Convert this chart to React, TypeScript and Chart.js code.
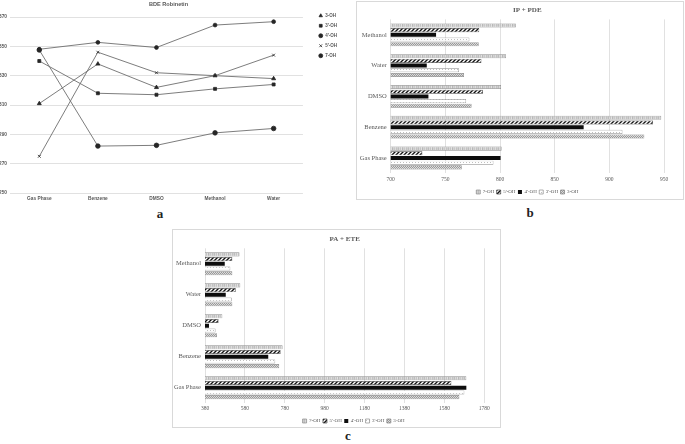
import React, { useEffect, useRef } from 'react';
import { Chart, registerables } from 'chart.js';

Chart.register(...registerables);

// ---------- Panel a: BDE Robinetin ----------
const solvents = ['Gas Phase', 'Benzene', 'DMSO', 'Methanol', 'Water'];
const bde3OH = [311, 338, 322, 330, 328];
const bde3pOH = [340, 318, 317, 321, 324];
const bde4pOH = [347.5, 282, 282.5, 291, 294];
const bde5pOH = [275, 346, 332, 330, 344];
const bde7OH = [348, 352.7, 349.2, 364.5, 366.8];
const bdeMin = 250;
const bdeMax = 370;
const bdeStep = 20;

// ---------- Panels b and c ----------
const barCategories = ['Methanol', 'Water', 'DMSO', 'Benzene', 'Gas Phase'];
const barSeries = ['7-OH', "5'-OH", "4'-OH", "3'-OH", '3-OH'];

const ip7OH = [814.5, 805.5, 801, 947.5, 801.5];
const ip5pOH = [781, 783, 784.5, 940, 729];
const ip4pOH = [741.5, 733, 734.5, 876.5, 800.5];
const ip3pOH = [772, 762.5, 769, 912, 794];
const ip3OH = [780.5, 767, 774, 932, 765];
const ipMin = 700;
const ipMax = 950;
const ipStep = 50;

const pa7OH = [553, 557, 467, 769, 1690];
const pa5pOH = [517, 534, 448, 759, 1615];
const pa4pOH = [479, 484, 400, 697, 1690];
const pa3pOH = [507, 514, 433, 732, 1680];
const pa3OH = [517, 517, 440, 752, 1655];
const paMin = 380;
const paMax = 1780;
const paStep = 200;

const SANS = "'Liberation Sans', Arial, sans-serif";
const SERIF = "'Liberation Serif', 'Times New Roman', serif";
const TXT = '#595959';
const GRID = '#d9d9d9';

const legendMove = {
  id: 'legendMove',
  afterLayout(chart: any, _args: any, opts: any) {
    const lg = chart.legend;
    if (!lg || !opts) return;
    const w = lg.width;
    const h = lg.height;
    if (opts.left != null) {
      lg.left = opts.left;
      lg.right = opts.left + w;
    }
    if (opts.dx) {
      lg.left += opts.dx;
      lg.right += opts.dx;
    }
    if (opts.top != null) {
      lg.top = opts.top;
      lg.bottom = opts.top + h;
    }
  },
};

function makePattern(w: number, h: number, draw: (ctx: CanvasRenderingContext2D) => void) {
  const c = document.createElement('canvas');
  c.width = w;
  c.height = h;
  const ctx = c.getContext('2d')!;
  draw(ctx);
  return ctx.createPattern(c, 'repeat')!;
}

function barStyles() {
  const pat7 = makePattern(10, 2, (ctx) => {
    const g = ['#cfcfcf', '#bdbdbd', '#d9d9d9', '#c4c4c4', '#e2e2e2', '#b8b8b8', '#d2d2d2', '#c8c8c8', '#dcdcdc', '#c2c2c2'];
    g.forEach((col, i) => {
      ctx.fillStyle = col;
      ctx.fillRect(i, 0, 1, 2);
    });
  });
  const pat5 = makePattern(4, 4, (ctx) => {
    ctx.fillStyle = '#ffffff';
    ctx.fillRect(0, 0, 4, 4);
    ctx.strokeStyle = '#111111';
    ctx.lineWidth = 1.4;
    ctx.beginPath();
    ctx.moveTo(-1, 5);
    ctx.lineTo(5, -1);
    ctx.moveTo(-3, 3);
    ctx.lineTo(3, -3);
    ctx.moveTo(1, 7);
    ctx.lineTo(7, 1);
    ctx.stroke();
  });
  const pat3p = makePattern(3, 3, (ctx) => {
    ctx.fillStyle = '#ffffff';
    ctx.fillRect(0, 0, 3, 3);
    ctx.fillStyle = '#bfbfbf';
    ctx.fillRect(1, 1, 1, 1);
  });
  const pat3 = makePattern(2, 2, (ctx) => {
    ctx.fillStyle = '#dcdcdc';
    ctx.fillRect(0, 0, 2, 2);
    ctx.fillStyle = '#999999';
    ctx.fillRect(0, 0, 1, 1);
    ctx.fillRect(1, 1, 1, 1);
  });
  return [
    { backgroundColor: pat7, borderColor: '#8c8c8c', borderWidth: 0.7 },
    { backgroundColor: pat5, borderColor: '#404040', borderWidth: 0.7 },
    { backgroundColor: '#0d0d0d', borderColor: '#0d0d0d', borderWidth: 0 },
    { backgroundColor: pat3p, borderColor: '#8c8c8c', borderWidth: 0.7 },
    { backgroundColor: pat3, borderColor: '#7f7f7f', borderWidth: 0.7 },
  ];
}

function buildLine(): any {
  const mk = (label: string, data: number[], pointStyle: string, r: number) => ({
    label,
    data,
    pointStyle,
    pointRadius: r,
    borderColor: '#6e6e6e',
    borderWidth: 0.9,
    backgroundColor: '#262626',
    pointBackgroundColor: '#262626',
    pointBorderColor: '#262626',
    pointBorderWidth: 0.8,
    tension: 0,
  });
  return {
    type: 'line',
    data: {
      labels: solvents,
      datasets: [
        mk('3-OH', bde3OH, 'triangle', 2.3),
        mk("3'-OH", bde3pOH, 'rect', 2.1),
        mk("4'-OH", bde4pOH, 'circle', 2.3),
        mk("5'-OH", bde5pOH, 'crossRot', 2),
        mk('7-OH', bde7OH, 'circle', 1.9),
      ],
    },
    options: {
      responsive: false,
      animation: false,
      layout: { padding: { left: 0, right: 3, top: 0, bottom: 0 } },
      plugins: {
        title: {
          display: true,
          text: 'BDE Robinetin',
          color: TXT,
          font: { family: SANS, size: 5.6, weight: 'bold' },
          padding: { top: 1, bottom: 9.28 },
        },
        legend: {
          position: 'right',
          align: 'start',
          labels: {
            usePointStyle: true,
            boxHeight: 2.8,
            padding: 5.5,
            color: TXT,
            font: { family: SANS, size: 4.5, weight: 'bold' },
            generateLabels: (chart: any) =>
              (Chart.defaults.plugins.legend.labels as any)
                .generateLabels(chart)
                .map((l: any) => ({ ...l, strokeStyle: '#262626', fillStyle: '#262626', lineWidth: 0.8 })),
          },
        },
        tooltip: { enabled: false },
        legendMove: { left: 313, top: 8 },
      },
      scales: {
        x: {
          offset: true,
          grid: { display: false, drawTicks: false },
          border: { display: false },
          ticks: { color: TXT, font: { family: SANS, size: 4.8, weight: 'bold' }, padding: 3, maxRotation: 0, autoSkip: false },
          afterFit: (s: any) => {
            s.height = 12;
          },
        },
        y: {
          min: bdeMin,
          max: bdeMax,
          ticks: { stepSize: bdeStep, color: TXT, font: { family: SANS, size: 4.8, weight: 'bold' }, padding: 3 },
          grid: { color: GRID, lineWidth: 0.8, drawTicks: false },
          border: { display: false },
          afterFit: (s: any) => {
            s.width = 10;
          },
        },
      },
    },
    plugins: [legendMove],
  };
}

function buildBar(p: {
  title: string;
  series: number[][];
  min: number;
  max: number;
  step: number;
  yWidth: number;
  padRight: number;
  padBottom: number;
  titleTop: number;
  titleBottom: number;
  tickPad: number;
  legendTop: number;
  legendDx: number;
}): any {
  const st = barStyles();
  return {
    type: 'bar',
    data: {
      labels: barCategories,
      datasets: barSeries.map((name, i) => ({
        label: name,
        data: p.series[i],
        ...st[i],
        categoryPercentage: 0.76,
        barPercentage: 0.86,
      })),
    },
    options: {
      indexAxis: 'y',
      responsive: false,
      animation: false,
      layout: { padding: { left: 0, right: p.padRight, top: 0, bottom: p.padBottom } },
      plugins: {
        title: {
          display: true,
          fullSize: false,
          text: p.title,
          color: TXT,
          font: { family: SERIF, size: 7, weight: 'bold' },
          padding: { top: p.titleTop, bottom: p.titleBottom },
        },
        legend: {
          position: 'bottom',
          fullSize: false,
          labels: {
            boxWidth: 4,
            boxHeight: 4,
            padding: 2.5,
            color: TXT,
            font: { family: SERIF, size: 5 },
          },
        },
        tooltip: { enabled: false },
        legendMove: { top: p.legendTop, dx: p.legendDx },
      },
      scales: {
        x: {
          min: p.min,
          max: p.max,
          ticks: {
            stepSize: p.step,
            color: TXT,
            font: { family: SERIF, size: 5.5 },
            padding: p.tickPad,
            maxRotation: 0,
            callback: (v: any) => String(v),
          },
          grid: { color: GRID, lineWidth: 0.8, drawTicks: false },
          border: { display: false },
          afterFit: (s: any) => {
            s.height = 10;
          },
        },
        y: {
          ticks: { color: TXT, font: { family: SERIF, size: 6.5 }, padding: 4, autoSkip: false },
          grid: { display: false, drawTicks: false },
          border: { display: false },
          afterFit: (s: any) => {
            s.width = p.yWidth;
          },
        },
      },
    },
    plugins: [legendMove],
  };
}

function ChartCanvas({ width, height, build }: { width: number; height: number; build: () => any }) {
  const ref = useRef<HTMLCanvasElement>(null);
  useEffect(() => {
    const chart = new Chart(ref.current!, build());
    return () => chart.destroy();
  }, []);
  return <canvas ref={ref} width={width} height={height} style={{ display: 'block', width, height }} />;
}

const letterStyle: React.CSSProperties = {
  position: 'absolute',
  width: 20,
  height: 14,
  lineHeight: '14px',
  textAlign: 'center',
  fontFamily: SERIF,
  fontWeight: 'bold',
  fontSize: 13,
  color: '#222',
};

export default function App() {
  return (
    <div style={{ position: 'absolute', left: 0, top: 0, width: 685, height: 444, background: '#fff', overflow: 'hidden' }}>
      <div style={{ position: 'absolute', left: 0, top: 0 }}>
        <ChartCanvas width={340} height={205} build={buildLine} />
      </div>
      <div
        style={{
          position: 'absolute',
          left: 356,
          top: 1,
          width: 328,
          height: 199,
          border: '1px solid #d9d9d9',
          boxSizing: 'border-box',
        }}
      >
        <ChartCanvas
          width={326}
          height={197}
          build={() =>
            buildBar({
              title: 'IP + PDE',
              series: [ip7OH, ip5pOH, ip4pOH, ip3pOH, ip3OH],
              min: ipMin,
              max: ipMax,
              step: ipStep,
              yWidth: 33.7,
              padRight: 19,
              padBottom: -1.9,
              titleTop: 4,
              titleBottom: 5,
              tickPad: 2.4,
              legendTop: 185,
              legendDx: 0,
            })
          }
        />
      </div>
      <div
        style={{
          position: 'absolute',
          left: 172,
          top: 229,
          width: 329,
          height: 199,
          border: '1px solid #d9d9d9',
          boxSizing: 'border-box',
        }}
      >
        <ChartCanvas
          width={327}
          height={197}
          build={() =>
            buildBar({
              title: 'PA + ETE',
              series: [pa7OH, pa5pOH, pa4pOH, pa3pOH, pa3OH],
              min: paMin,
              max: paMax,
              step: paStep,
              yWidth: 32,
              padRight: 15.7,
              padBottom: -3.7,
              titleTop: 4.5,
              titleBottom: 5.4,
              tickPad: 2,
              legendTop: 186,
              legendDx: 9,
            })
          }
        />
      </div>
      <div style={{ ...letterStyle, left: 150, top: 207 }}>a</div>
      <div style={{ ...letterStyle, left: 520, top: 206 }}>b</div>
      <div style={{ ...letterStyle, left: 338, top: 429 }}>c</div>
    </div>
  );
}
